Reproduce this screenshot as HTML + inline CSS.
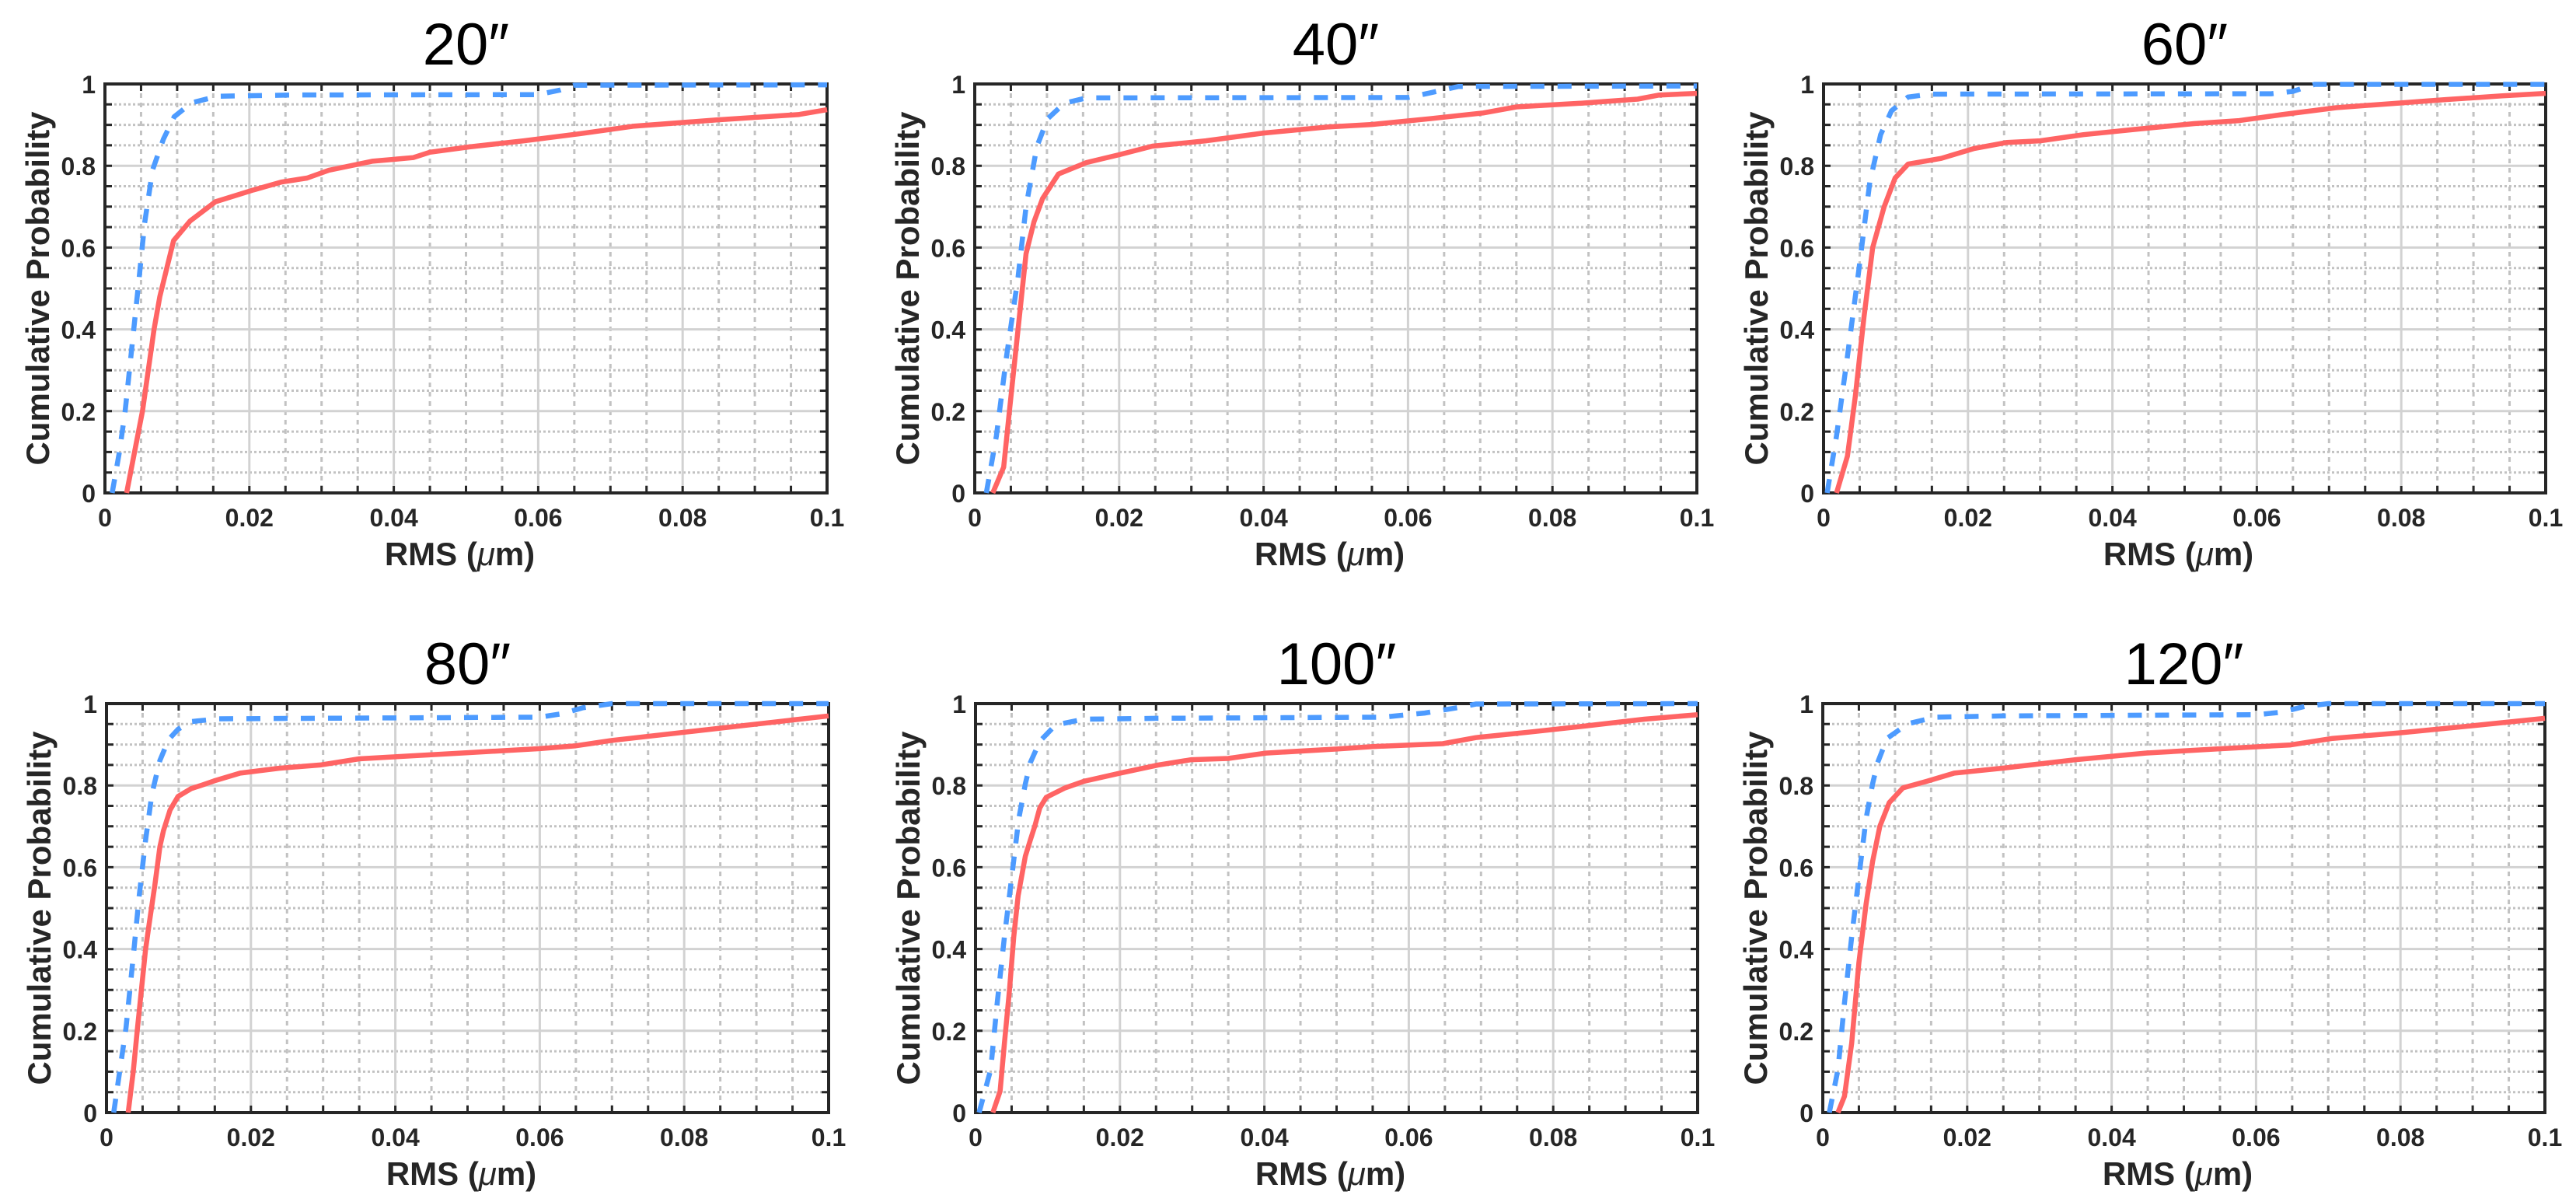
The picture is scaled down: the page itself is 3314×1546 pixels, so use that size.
<!DOCTYPE html>
<html>
<head>
<meta charset="utf-8">
<style>
  html,body{margin:0;padding:0;background:#fff;}
  svg{display:block;}
  text{font-family:"Liberation Sans",Arial,sans-serif;fill:#262626;}
</style>
</head>
<body>
<svg id="fig" width="3314" height="1546" viewBox="0 0 3314 1546" xmlns="http://www.w3.org/2000/svg"></svg>
<script>
// ---- data (RMS in µm, cumulative probability) ----
const panelTitles = ["20\u2033","40\u2033","60\u2033","80\u2033","100\u2033","120\u2033"];
const xTickLabels = ["0","0.02","0.04","0.06","0.08","0.1"];
const xTickValues = [0,0.02,0.04,0.06,0.08,0.1];
const yTickLabels = ["0","0.2","0.4","0.6","0.8","1"];
const yTickValues = [0,0.2,0.4,0.6,0.8,1];

const red20X = [0.003,0.0041,0.0052,0.0068,0.0076,0.0095,0.0118,0.0153,0.0206,0.0244,0.028,0.031,0.037,0.0427,0.045,0.0504,0.058,0.0656,0.0733,0.0847,0.096,0.1];
const red20Y = [0,0.1,0.2,0.4,0.48,0.617,0.665,0.712,0.741,0.76,0.77,0.789,0.811,0.82,0.833,0.846,0.861,0.878,0.897,0.912,0.925,0.937];
const blue20X = [0.001,0.002,0.0028,0.0047,0.0055,0.0066,0.0081,0.0096,0.012,0.0156,0.026,0.06,0.063,0.065,0.1];
const blue20Y = [0,0.1,0.2,0.52,0.66,0.79,0.865,0.92,0.954,0.97,0.973,0.974,0.985,0.997,0.998];

const red40X = [0.0025,0.004,0.0048,0.006,0.0071,0.0082,0.0094,0.0116,0.0155,0.02,0.0246,0.032,0.04,0.049,0.055,0.063,0.0704,0.075,0.084,0.0918,0.0948,0.1];
const red40Y = [0,0.063,0.2,0.4,0.585,0.663,0.72,0.78,0.808,0.827,0.848,0.861,0.88,0.895,0.901,0.915,0.929,0.944,0.953,0.963,0.973,0.977];
const blue40X = [0.0016,0.003,0.0044,0.006,0.0071,0.0086,0.0101,0.0124,0.0155,0.06,0.063,0.067,0.1];
const blue40Y = [0,0.14,0.334,0.527,0.70,0.847,0.915,0.953,0.966,0.967,0.978,0.994,0.995];

const red60X = [0.0018,0.0033,0.0044,0.0056,0.0068,0.0084,0.0099,0.0117,0.0163,0.0208,0.0254,0.03,0.036,0.0437,0.0513,0.0574,0.0635,0.071,0.0787,0.0863,0.094,0.1];
const red60Y = [0,0.09,0.237,0.43,0.60,0.70,0.77,0.804,0.818,0.842,0.857,0.861,0.876,0.89,0.903,0.91,0.925,0.942,0.952,0.962,0.971,0.977];
const blue60X = [0.0005,0.0018,0.0033,0.0049,0.0064,0.0079,0.0094,0.0117,0.0148,0.062,0.065,0.068,0.1];
const blue60Y = [0,0.14,0.334,0.547,0.76,0.876,0.934,0.968,0.975,0.976,0.982,0.999,0.999];

const red80X = [0.003,0.0037,0.0043,0.0054,0.0059,0.0067,0.0074,0.0079,0.0088,0.0099,0.0117,0.0131,0.0149,0.0185,0.0239,0.0296,0.035,0.039,0.05,0.06,0.065,0.07,0.08,0.09,0.1];
const red80Y = [0,0.1,0.207,0.398,0.46,0.556,0.65,0.69,0.74,0.773,0.792,0.80,0.811,0.83,0.842,0.85,0.865,0.869,0.88,0.89,0.897,0.91,0.93,0.95,0.97];
const blue80X = [0.001,0.0027,0.0038,0.0045,0.0054,0.0063,0.0074,0.0086,0.0099,0.0117,0.0156,0.06,0.063,0.066,0.07,0.1];
const blue80Y = [0,0.207,0.398,0.525,0.665,0.78,0.861,0.912,0.937,0.956,0.963,0.967,0.975,0.99,1.0,1.0];

const red100X = [0.0024,0.0034,0.004,0.0047,0.0053,0.0059,0.0069,0.0076,0.0082,0.0089,0.0098,0.0124,0.015,0.02,0.0253,0.0299,0.035,0.0402,0.05,0.055,0.0647,0.0693,0.077,0.0848,0.0926,0.1];
const red100Y = [0,0.052,0.17,0.30,0.43,0.53,0.627,0.667,0.70,0.745,0.771,0.794,0.81,0.83,0.85,0.863,0.866,0.879,0.889,0.895,0.902,0.917,0.931,0.946,0.962,0.973];
const blue100X = [0.0005,0.0021,0.003,0.004,0.005,0.006,0.0069,0.0076,0.0089,0.0111,0.015,0.025,0.0564,0.0622,0.0667,0.0693,0.1];
const blue100Y = [0,0.105,0.268,0.43,0.575,0.719,0.804,0.856,0.908,0.948,0.962,0.964,0.967,0.977,0.99,0.999,1.0];

const red120X = [0.0021,0.003,0.004,0.005,0.006,0.0069,0.0079,0.0092,0.0111,0.0144,0.0182,0.0253,0.035,0.0447,0.0544,0.0648,0.0706,0.0803,0.09,0.1];
const red120Y = [0,0.04,0.17,0.366,0.51,0.614,0.70,0.758,0.794,0.81,0.83,0.843,0.863,0.879,0.889,0.899,0.915,0.929,0.946,0.964];
const blue120X = [0.0009,0.0021,0.003,0.004,0.005,0.006,0.0069,0.0076,0.0089,0.0118,0.0156,0.025,0.0602,0.0635,0.0667,0.07,0.1];
const blue120Y = [0,0.105,0.268,0.43,0.575,0.719,0.804,0.856,0.915,0.951,0.967,0.97,0.973,0.979,0.993,1.0,1.0];

const redSeriesX = [red20X,red40X,red60X,red80X,red100X,red120X];
const redSeriesY = [red20Y,red40Y,red60Y,red80Y,red100Y,red120Y];
const blueSeriesX = [blue20X,blue40X,blue60X,blue80X,blue100X,blue120X];
const blueSeriesY = [blue20Y,blue40Y,blue60Y,blue80Y,blue100Y,blue120Y];

// ---- layout ----
const NS = "http://www.w3.org/2000/svg";
const svg = document.getElementById("fig");
const PLOT_LEFTS = [135,1254,2346,137,1255,2345];
const PLOT_TOPS = [108,108,108,905,905,905];
const PW = 929, PH = 526;

function mk(tag, attrs, parent){
  const el = document.createElementNS(NS, tag);
  for (const k in attrs) el.setAttribute(k, attrs[k]);
  (parent||svg).appendChild(el);
  return el;
}

for (let p = 0; p < 6; p++){
  const L = PLOT_LEFTS[p], T = PLOT_TOPS[p], R = L + PW, B = T + PH;
  const xs = v => L + v / 0.1 * PW;
  const ys = v => B - v * PH;
  const g = mk("g", {});
  
  

  for (let i = 1; i < 20; i++){
    if (i % 4 === 0) continue;
    const x = xs(i*0.005);
    const ln = mk("line", {x1:x,y1:T,x2:x,y2:B,stroke:"#c2c2c2","stroke-width":3,"stroke-dasharray":"6 6"}, g);
    
    
  }
  for (let i = 1; i < 20; i++){
    if (i % 4 === 0) continue;
    const y = ys(i*0.05);
    const ln = mk("line", {x1:L,y1:y,x2:R,y2:y,stroke:"#c2c2c2","stroke-width":3,"stroke-dasharray":"3 3"}, g);
    
    
  }
  for (let i = 1; i < 5; i++){
    const x = xs(xTickValues[i]);
    const ln = mk("line", {x1:x,y1:T,x2:x,y2:B,stroke:"#d2d2d2","stroke-width":3}, g);
    
    
    const y = ys(yTickValues[i]);
    const ln2 = mk("line", {x1:L,y1:y,x2:R,y2:y,stroke:"#d2d2d2","stroke-width":3}, g);
    
    
  }
  let tk = "";
  for (let i = 1; i < 20; i++){
    const x = xs(i*0.005);
    tk += `M${x},${B}v-9M${x},${T}v9`;
    const y = ys(i*0.05);
    tk += `M${L},${y}h9M${R},${y}h-9`;
  }
  const ticks = mk("path", {d:tk, stroke:"#262626","stroke-width":3, fill:"none"}, g);
  
  
  const frame = mk("rect", {x:L,y:T,width:PW,height:PH,fill:"none",stroke:"#262626","stroke-width":4}, g);
  
  

  const toPath = (X, Y) => X.map((v,i)=>(i?"L":"M")+xs(v).toFixed(1)+","+ys(Y[i]).toFixed(1)).join("");
  const red = mk("path", {d:toPath(redSeriesX[p], redSeriesY[p]), stroke:"#ff6464","stroke-width":6.5,fill:"none","stroke-linejoin":"round"}, g);
  
  
  const blue = mk("path", {d:toPath(blueSeriesX[p], blueSeriesY[p]), stroke:"#4d9bff","stroke-width":6.5,fill:"none","stroke-dasharray":"18 17"}, g);
  
  

  xTickLabels.forEach((lab, i) => {
    const t = mk("text", {x:xs(xTickValues[i]), y:B+43, "font-size":32, "font-weight":"bold", "text-anchor":"middle"}, g);
    t.textContent = lab;
    
    
  });
  yTickLabels.forEach((lab, i) => {
    const t = mk("text", {x:L-12, y:ys(yTickValues[i])+12, "font-size":32, "font-weight":"bold", "text-anchor":"end"}, g);
    t.textContent = lab;
    
    
  });
  const xt = mk("text", {x:L+PW/2-8, y:B+93, "font-size":42, "font-weight":"bold", "text-anchor":"middle"}, g);
  xt.innerHTML = 'RMS (<tspan font-style="italic" font-weight="normal">\u03bc</tspan>m)';
  
  
  const yt = mk("text", {x:0, y:0, "font-size":42, "font-weight":"bold", "text-anchor":"middle", transform:`translate(${L-72},${T+PH/2}) rotate(-90)`}, g);
  yt.textContent = "Cumulative Probability";
  
  
  const tt = mk("text", {x:L+PW/2, y:T-25, "font-size":76, "text-anchor":"middle", style:"fill:#000"}, g);
  tt.textContent = panelTitles[p];
  
  
}
</script>
</body>
</html>
